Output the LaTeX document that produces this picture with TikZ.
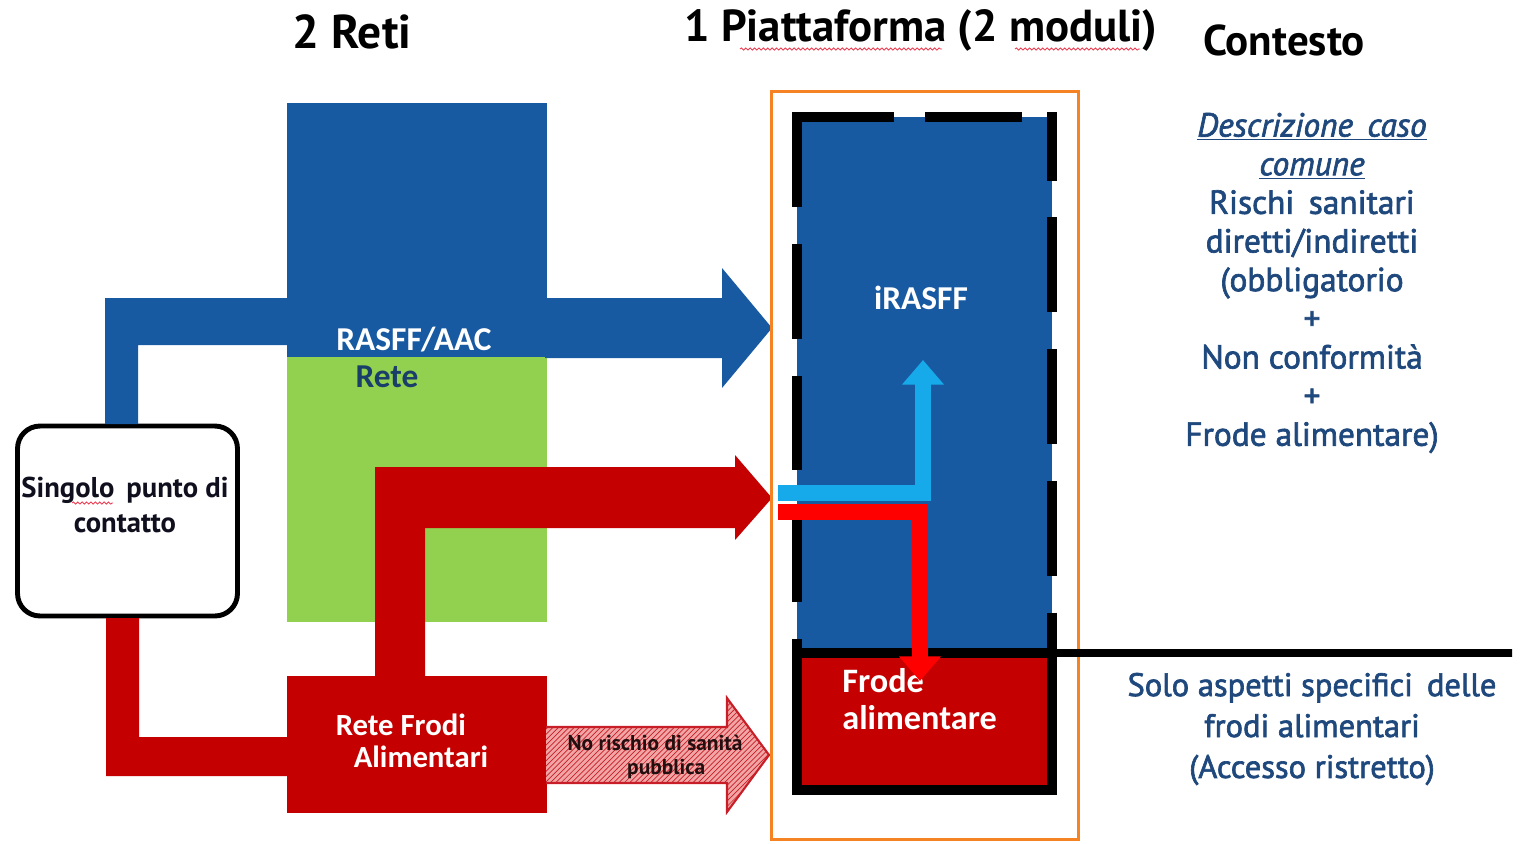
\documentclass[tikz,border=0pt]{standalone}
\usepackage{fontspec}
\setmainfont{PT Sans}
\newfontfamily\calfont{Carlito}
\newfontfamily\ctxfont[FakeBold=2]{PT Sans}
\usetikzlibrary{arrows.meta,patterns,decorations.pathmorphing}
\definecolor{rasffblue}{RGB}{24,90,162}
\definecolor{retegreen}{RGB}{146,208,80}
\definecolor{darkred}{RGB}{196,0,0}
\definecolor{brightred}{RGB}{255,0,0}
\definecolor{lightcyan}{RGB}{22,170,235}
\definecolor{frameorange}{RGB}{245,130,35}
\definecolor{ctxblue}{RGB}{31,73,125}
\definecolor{hatchpink}{RGB}{242,165,165}
\definecolor{hatchred}{RGB}{200,30,40}
\definecolor{spellred}{RGB}{235,60,80}
\tikzset{
  fillbox/.style={inner sep=0pt, outer sep=0pt, draw=none},
  wlabel/.style={text=white, inner sep=0pt, font=\calfont\bfseries\fontsize{19}{22}\selectfont},
  titletext/.style={text=black, inner sep=0pt, font=\bfseries\fontsize{27}{30}\selectfont},
  ctxtext/.style={text=ctxblue, align=center, inner sep=0pt},
  flowline/.style={line width=9pt, line join=miter, -{Triangle[width=23pt,length=14pt]}},
  dashedge/.style={line width=5.7pt},
  spell/.style={spellred, line width=0.5pt, decorate, decoration={snake, amplitude=0.6pt, segment length=2.5pt}},
}
\begin{document}
\begin{tikzpicture}[x=0.02cm, y=-0.02cm]
\useasboundingbox (0,0) rectangle (1527,843);
\fill[white] (0,0) rectangle (1527,843);

% titles
\node[titletext] (t1) at (352,32) {2 Reti};
\node[titletext, font=\bfseries\fontsize{25.5}{30}\selectfont] (t2) at (921,30) {1 Piattaforma (2 moduli)};
\node[titletext, font=\bfseries\fontsize{24.5}{30}\selectfont] (t3) at (1284,40) {Contesto};
\draw[spell] (740,49) -- (942,49);
\draw[spell] (1015,49) -- (1140,49);

% networks
\node[fillbox, fill=rasffblue, minimum width=5.2cm, minimum height=5.08cm, anchor=north west] (rasff) at (287,103) {};
\node[fillbox, fill=retegreen, minimum width=5.2cm, minimum height=5.3cm, anchor=north west] (rete) at (287,357) {};
\node[fillbox, fill=darkred, minimum width=5.2cm, minimum height=2.74cm, anchor=north west] (frodi) at (287,676) {};

% single contact point
\node[draw=black, line width=2.8pt, rounded corners=0.45cm, fill=white, minimum width=4.4cm, minimum height=3.8cm] (singolo) at (127.5,521) {};
\node[inner sep=0pt, align=center, text={rgb,255:red,15;green,15;blue,30}, font=\bfseries\fontsize{16.3}{19.5}\selectfont] (singolotxt) at (125,505) {Singolo\, punto di\\contatto};
\draw[spell] (72,503) -- (113,503);

% blue path from contact point to iRASFF
\fill[rasffblue] (105,424) -- (105,298) -- (290,298) -- (290,345) -- (138,345) -- (138,424) -- cycle;
\fill[rasffblue] (545,298) -- (722,298) -- (722,268) -- (772,328) -- (722,388) -- (722,358) -- (545,358) -- cycle;

% red path from contact point to fraud network
\fill[darkred] (106,618) -- (106,776) -- (290,776) -- (290,737) -- (139,737) -- (139,618) -- cycle;

% red big arrow from fraud network to platform
\fill[darkred] (375,677) -- (375,467) -- (735,467) -- (735,455) -- (772,498) -- (735,540) -- (735,528) -- (425,528) -- (425,677) -- cycle;

% labels on networks
\node[wlabel] (rasfflbl) at (414,340) {RASFF/AAC};
\node[wlabel, text=ctxblue!85!black] (retelbl) at (387,377) {Rete};
\node[wlabel, align=left, font=\calfont\bfseries\fontsize{17.5}{18.5}\selectfont] (frodilbl) at (412,741) {Rete Frodi\\\hspace*{0.36cm}Alimentari};

% hatched arrow
\path[fill=hatchpink] (546,727) -- (727,727) -- (727,698) -- (769,755) -- (727,812) -- (727,783) -- (546,783) -- cycle;
\path[pattern=north east lines, pattern color=hatchred] (546,727) -- (727,727) -- (727,698) -- (769,755) -- (727,812) -- (727,783) -- (546,783) -- cycle;
\draw[hatchred, line width=1.2pt, line join=miter] (546,727) -- (727,727) -- (727,698) -- (769,755) -- (727,812) -- (727,783) -- (546,783);
\node[inner sep=0pt, align=center, text={rgb,255:red,35;green,15;blue,15}, font=\bfseries\fontsize{12.2}{13.8}\selectfont] (norischio) at (655,757) {No rischio di sanità\\\hspace*{0.45cm}pubblica};

% platform
\node[draw=frameorange, line width=1.7pt, minimum width=6.16cm, minimum height=14.98cm] (frame) at (925,465.5) {};
\node[fillbox, fill=rasffblue, minimum width=5.1cm, minimum height=10.7cm] (irasff) at (924.5,384.5) {};
\draw[dashedge, dash pattern=on 54pt off 21pt] (797,112) -- (797,650);
\draw[dashedge, dash pattern=on 55pt off 18pt] (797,117) -- (1057,117);
\draw[dashedge, dash pattern=on 54pt off 21pt, dash phase=15pt] (1052,112) -- (1052,650);
\node[draw=black, fill=darkred, line width=5.7pt, outer sep=0pt, minimum width=5.1cm, minimum height=2.74cm] (frode) at (924.5,721.5) {};
\coordinate (lineend) at (1512,653);
\draw[line width=4.5pt] (frode.north east) -- (lineend);
\node[wlabel] (irasfflbl) at (921,298) {iRASFF};
\node[wlabel, align=left, anchor=north west, font=\calfont\bfseries\fontsize{19.5}{21}\selectfont] (frodelbl) at (842,668) {Frode\\alimentare};

% routing inside platform
\coordinate (cyanstart) at (778,493);
\coordinate (cyanend) at (923,360);
\coordinate (redstart) at (778,512);
\coordinate (redend) at (920,681);
\draw[flowline, lightcyan] (cyanstart) -| (cyanend);
\draw[flowline, brightred] (redstart) -| (redend);

% context
\node[ctxtext, font=\ctxfont\fontsize{19}{22}\selectfont] (ctxtop) at (1312,283) {\underline{\textit{Descrizione\, caso}}\\\underline{\textit{comune}}\\Rischi\, sanitari\\diretti/indiretti\\(obbligatorio\\+\\Non conformità\\+\\Frode alimentare)};
\node[ctxtext, font=\ctxfont\fontsize{18.5}{23.3}\selectfont] (ctxbot) at (1312,729) {Solo aspetti specifici\, delle\\frodi alimentari\\(Accesso ristretto)};
\end{tikzpicture}
\end{document}
